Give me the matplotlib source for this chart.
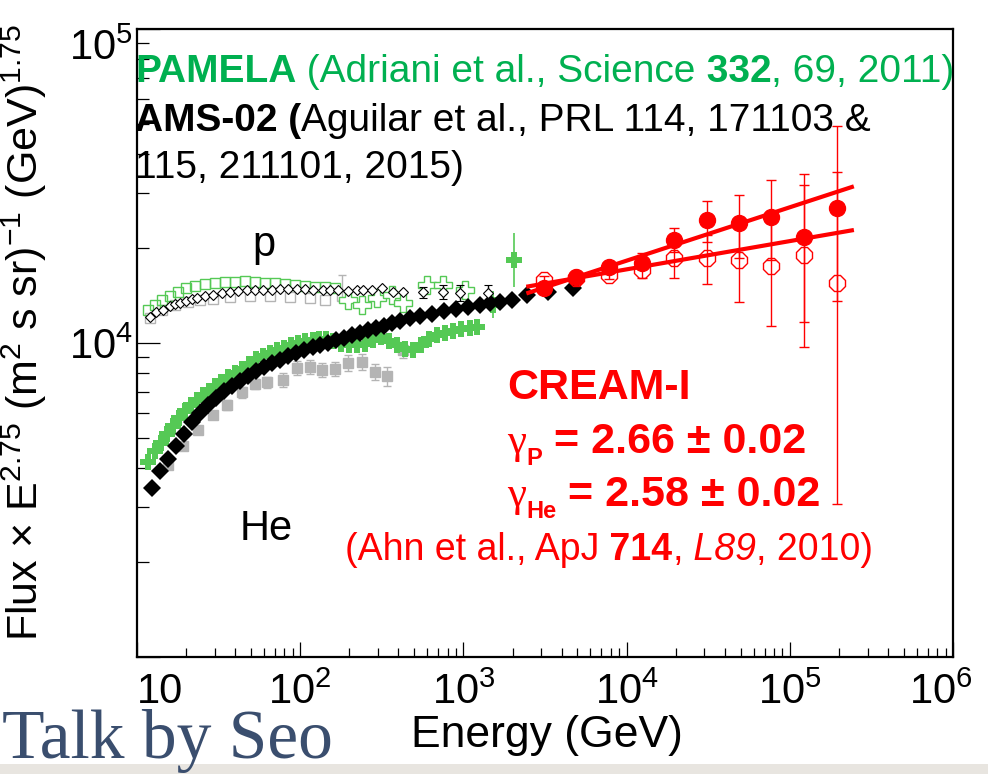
import matplotlib
matplotlib.use("Agg")
import matplotlib.pyplot as plt
import numpy as np
from matplotlib.patches import Rectangle
from matplotlib.ticker import LogLocator, NullFormatter
from matplotlib.transforms import ScaledTranslation

plt.rcParams["font.family"] = ["Liberation Sans", "DejaVu Sans"]
plt.rcParams["mathtext.fontset"] = "custom"
plt.rcParams["mathtext.rm"] = "Liberation Sans"
plt.rcParams["mathtext.it"] = "Liberation Sans:italic"
plt.rcParams["mathtext.bf"] = "Liberation Sans:bold"

W, H = 988, 774

# flux x E^2.75 in (m^2 s sr)^-1 GeV^1.75, energy in GeV

# PAMELA protons: open squares, open crosses for the highest bins
pam_p_e = [11.7, 12.9, 14.2, 15.9, 17.9, 20.0, 22.7, 26.1, 30.1, 34.7, 39.9,
           46.0, 53.0, 61.0, 70.3, 80.9, 93.1, 107, 124, 142, 164]
pam_p_f = [12740, 13210, 13700, 14110, 14540, 14970, 15190, 15410, 15530,
           15640, 15640, 15760, 15640, 15530, 15530, 15410, 15300, 15190,
           15080, 15080, 14970]
pam_p_hi_e = [197, 240, 297, 367, 428, 601, 754, 1030]
pam_p_hi_f = [13700, 13210, 13910, 14220, 13410, 15300, 15300, 14750]

# PAMELA helium
pam_he_e = [11.7, 12.9, 14.0, 15.3, 16.6, 18.1, 19.7, 21.4, 23.3, 25.4, 27.7,
            30.1, 32.8, 36.2, 39.9, 44.1, 48.7, 53.7, 59.3, 65.5, 72.3, 79.8,
            88.1, 97.2, 107, 119, 131, 144, 159, 178, 200, 224, 251, 281, 314,
            352, 394, 441, 494, 553, 619, 693, 776, 868, 972, 1090, 1220]
pam_he_f = [4180, 4530, 4800, 5130, 5440, 5770, 6070, 6350, 6580, 6830, 7030,
            7300, 7510, 7790, 8030, 8260, 8570, 8890, 9090, 9290, 9500, 9640,
            9850, 10000, 10150, 10220, 10300, 10300, 10150, 9930, 9850, 9850,
            9930, 10220, 10450, 10150, 9850, 9570, 9500, 9850, 10300, 10600,
            10760, 10920, 11080, 11160, 11250]
pam_he_tail_e = [1510, 2030]
pam_he_tail_f = [13210, 18380]
pam_he_tail_lo = [12000, 15080]
pam_he_tail_hi = [14640, 22400]

# AMS-02 protons
ams_p_e = [12.0, 13.1, 14.4, 15.9, 17.1, 18.4, 20.0, 21.8, 23.3, 26.1, 29.3,
           33.2, 37.2, 41.7, 47.3, 53.0, 59.3, 67.3, 75.4, 84.4, 95.9, 107,
           120, 138, 153, 171, 197, 224, 244, 277, 319, 372, 428]
ams_p_f = [12100, 12550, 12740, 13120, 13310, 13410, 13600, 13810, 13910,
           14110, 14220, 14430, 14530, 14640, 14750, 14750, 14750, 14750,
           14860, 14860, 14860, 14860, 14750, 14750, 14750, 14750, 14640,
           14750, 14750, 14750, 14970, 14530, 14530]
ams_p_tail_e = [568, 754, 959, 1420]
ams_p_tail_f = [14530, 14530, 14430, 14430]
ams_p_tail_rel = [0.04, 0.05, 0.06, 0.06]

# AMS-02 helium
ams_he_e = [12.4, 13.8, 15.5, 17.4, 19.4, 21.8, 24.4, 27.3, 30.5, 34.2, 38.3,
            42.9, 48.0, 53.7, 60.1, 67.3, 75.4, 84.4, 94.5, 106, 119, 133,
            149, 166, 186, 209, 233, 261, 293, 328, 367, 411, 473, 545, 645,
            765, 906, 1073, 1272, 1464, 1687]
ams_he_f = [3450, 3910, 4270, 4700, 5130, 5600, 5980, 6350, 6680, 7030, 7300,
            7570, 7850, 8140, 8390, 8640, 8830, 9090, 9290, 9500, 9710, 9850,
            10000, 10220, 10370, 10600, 10760, 11000, 11160, 11330, 11580,
            11750, 12010, 12190, 12370, 12640, 12830, 13020, 13210, 13410,
            13510]
ams_he_tail_e = [1998, 2470, 3276, 4664]
ams_he_tail_f = [13700, 14220, 14530, 14970]
ams_he_tail_rel = [0.02, 0.03, 0.04, 0.05]

# other balloon data (grey)
gray_p_e = [12.0, 14.2, 17.1, 20.6, 24.4, 29.3, 37.2, 49.3, 65.5, 86.8, 115, 142]
gray_p_f = [12010, 12740, 13210, 13510, 13700, 13810, 14010, 14110, 14110,
            14010, 13910, 13700]
gray_p_tail_e = [181]
gray_p_tail_f = [14110]
gray_p_tail_lo = [13700]
gray_p_tail_hi = [16470]

gray_he_e = [15.5, 19.2, 23.7, 29.3, 35.7, 44.1, 53.0, 62.7, 78.7, 95.9, 115,
             136, 164, 197, 240, 288, 342, 428]
gray_he_f = [4090, 4700, 5280, 5900, 6350, 6980, 7410, 7510, 7620, 8330, 8390,
             8200, 8260, 8640, 8700, 8090, 7850, 9500]
gray_he_rel = [0.03, 0.03, 0.03, 0.03, 0.04, 0.04, 0.04, 0.04, 0.05, 0.05,
               0.05, 0.05, 0.05, 0.06, 0.06, 0.06, 0.07, 0.06]

# CREAM-I
cream_e = [3100, 4870, 7760, 12500, 19400, 31000, 48600, 76400, 122000, 194000]
cream_p_f = [15870, 16110, 16470, 17080, 18650, 18650, 18380, 17590, 19070, 15530]
cream_p_lo = [15410, 15640, 15990, 16110, 16110, 15410, 13510, 11330, 9710, 3070]
cream_p_hi = [16350, 16590, 16960, 19340, 20510, 22080, 23760, 25560, 31860, 49110]
cream_he_f = [14970, 16230, 17460, 17980, 21280, 24650, 24110, 25190, 21760, 26920]
cream_he_lo = [14530, 15760, 16960, 17330, 19490, 20970, 18650, 18380, 11670, 13600]
cream_he_hi = [15410, 16710, 17980, 18650, 23240, 28330, 29600, 33050, 34530, 35040]

# power-law fits, normalised at 10 TeV
gamma_p, gamma_he = 2.66, 2.58
fit_norm_p, fit_norm_he = 17160, 18290
fit_e = [2500, 240000]

GREEN_TXT = "#00b050"
GREEN = "#55c955"
GRAY = "#b4b4b4"
RED = "#ff0000"


def asym(f, lo, hi):
    f = np.asarray(f, float)
    return [f - np.asarray(lo, float), np.asarray(hi, float) - f]


def rel(f, r):
    f = np.asarray(f, float)
    return f * np.asarray(r, float)


fig = plt.figure(figsize=(W / 100, H / 100), dpi=100)
fig.patch.set_facecolor("white")
ax = fig.add_axes([137 / W, 1 - 657 / H, (953 - 137) / W, (657 - 29) / H])
ax.set_xscale("log")
ax.set_yscale("log")
ax.set_xlim(10, 1e6)
ax.set_ylim(1e3, 1e5)

# grey points go underneath everything
ax.plot(gray_p_e, gray_p_f, ls="none", marker="s", ms=6.5, mfc="none",
        mec=GRAY, mew=1, zorder=1)
ax.errorbar(gray_p_tail_e, gray_p_tail_f,
            yerr=asym(gray_p_tail_f, gray_p_tail_lo, gray_p_tail_hi),
            fmt="s", ms=6.5, mfc="none", mec=GRAY, ecolor=GRAY, elinewidth=1,
            capsize=3, zorder=1)
ax.errorbar(gray_he_e, gray_he_f, yerr=rel(gray_he_f, gray_he_rel), fmt="s",
            ms=7.5, color=GRAY, ecolor=GRAY, elinewidth=1, capsize=3, zorder=1)

# PAMELA
ax.plot(pam_p_e, pam_p_f, ls="none", marker="s", ms=7, mfc="none",
        mec=GREEN, mew=1, zorder=2)
ax.plot(pam_p_hi_e, pam_p_hi_f, ls="none", marker="P", ms=13, mfc="white",
        mec=GREEN, mew=1, zorder=2)
ax.plot(pam_he_e, pam_he_f, ls="none", marker="P", ms=12, color=GREEN,
        mew=0, zorder=2)
ax.errorbar(pam_he_tail_e, pam_he_tail_f,
            yerr=asym(pam_he_tail_f, pam_he_tail_lo, pam_he_tail_hi),
            fmt="P", ms=12, color=GREEN, mew=0, ecolor=GREEN, elinewidth=1.2,
            capsize=3.5, zorder=2)

# AMS-02
ax.plot(ams_p_e, ams_p_f, ls="none", marker="D", ms=5.5, mfc="white",
        mec="black", mew=0.8, zorder=3)
ax.errorbar(ams_p_tail_e, ams_p_tail_f, yerr=rel(ams_p_tail_f, ams_p_tail_rel),
            fmt="D", ms=5.5, mfc="white", mec="black", mew=0.8, ecolor="black",
            elinewidth=1, capsize=3, zorder=3)
ax.plot(ams_he_e, ams_he_f, ls="none", marker="D", ms=9, color="black",
        mew=0, zorder=3)
ax.errorbar(ams_he_tail_e, ams_he_tail_f,
            yerr=rel(ams_he_tail_f, ams_he_tail_rel), fmt="D", ms=9,
            color="black", mew=0, ecolor="black", elinewidth=1.2, capsize=3.5,
            zorder=3)

# CREAM-I with its power-law fits
fe = np.asarray(fit_e, float)
ax.plot(fe, fit_norm_p * (fe / 1e4) ** (2.75 - gamma_p), color=RED, lw=3,
        zorder=4)
ax.plot(fe, fit_norm_he * (fe / 1e4) ** (2.75 - gamma_he), color=RED, lw=3,
        zorder=4)
ax.errorbar(cream_e, cream_p_f, yerr=asym(cream_p_f, cream_p_lo, cream_p_hi),
            fmt="8", ms=12, mfc="none", mec=RED, mew=1, ecolor=RED,
            elinewidth=1, capsize=3.5, zorder=5)
ax.errorbar(cream_e, cream_he_f,
            yerr=asym(cream_he_f, cream_he_lo, cream_he_hi), fmt="o",
            ms=11.5, color=RED, ecolor=RED, elinewidth=1, capsize=3.5,
            zorder=5)

# axes styling
for s in ax.spines.values():
    s.set_linewidth(1.6)
ax.xaxis.set_minor_locator(LogLocator(base=10, subs=np.arange(2, 10)))
ax.yaxis.set_minor_locator(LogLocator(base=10, subs=np.arange(2, 10)))
ax.xaxis.set_minor_formatter(NullFormatter())
ax.yaxis.set_minor_formatter(NullFormatter())
ax.tick_params(which="both", direction="in", top=False, right=False,
               labelsize=30, width=0.9)
ax.tick_params(axis="x", which="major", length=11, pad=11)
ax.tick_params(axis="x", which="minor", length=6.5)
ax.tick_params(axis="y", which="major", length=16.5, pad=3)
ax.tick_params(axis="y", which="minor", length=8.5)
ax.set_xticks([10, 1e2, 1e3, 1e4, 1e5, 1e6],
              labels=["10", "$10^{2}$", "$10^{3}$", "$10^{4}$", "$10^{5}$",
                      "$10^{6}$"])
ax.set_yticks([1e3, 1e4, 1e5], labels=["", "$10^{4}$", "$10^{5}$"])
xl = ax.get_xticklabels()
xl[0].set_horizontalalignment("left")
xl[-1].set_transform(xl[-1].get_transform()
                     + ScaledTranslation(-0.12, 0, fig.dpi_scale_trans))
ax.get_yticklabels()[2].set_verticalalignment("top")

fig.text(24 / W, 1 - 332 / H,
         r"Flux $\times$ E$^{2.75}$ (m$^{2}$ s sr)$^{-1}$ (GeV)$^{1.75}$",
         rotation=90, ha="center", va="center", fontsize=31)
fig.text(547 / W, 1 - 747 / H, "Energy (GeV)", ha="center", va="baseline",
         fontsize=32)


def put_runs(x, y, runs, size, color):
    rend = fig.canvas.get_renderer()
    for text, opts in runs:
        opts = dict(opts)
        fs = opts.pop("size", size)
        dy = opts.pop("dy", 0)
        t = fig.text(x / W, 1 - (y + dy) / H, text, fontsize=fs, color=color,
                     ha="left", va="baseline", **opts)
        x += t.get_window_extent(rend).width


put_runs(135, 82, [("PAMELA", {"weight": "bold"}),
                   (" (Adriani et al., Science", {}),
                   (" 332", {"weight": "bold"}),
                   (", 69, 2011)", {})], 28, GREEN_TXT)
put_runs(135, 131, [("AMS-02 (", {"weight": "bold"}),
                    ("Aguilar et al., PRL 114, 171103 &", {})], 28, "black")
put_runs(135, 178, [("115, 211101, 2015)", {})], 28, "black")

fig.text(252 / W, 1 - 256 / H, "p", fontsize=30, va="baseline")
fig.text(240 / W, 1 - 540 / H, "He", fontsize=30, va="baseline")

put_runs(507, 399, [("CREAM-I", {"weight": "bold"})], 31, RED)
put_runs(507, 453, [("\u03b3", {"family": "Liberation Serif"}),
                    ("P", {"weight": "bold", "size": 17, "dy": 12}),
                    (f" = {gamma_p:.2f} \u00b1 0.02", {"weight": "bold"})],
         31, RED)
put_runs(507, 506, [("\u03b3", {"family": "Liberation Serif"}),
                    ("He", {"weight": "bold", "size": 17, "dy": 12}),
                    (f" = {gamma_he:.2f} \u00b1 0.02", {"weight": "bold"})],
         31, RED)
put_runs(345, 560, [("(Ahn et al., ApJ", {}),
                    (" 714", {"weight": "bold"}),
                    (",", {}),
                    (" L89", {"style": "italic"}),
                    (", 2010)", {})], 27, RED)

fig.add_artist(Rectangle((0, 0), 1, 10 / H, transform=fig.transFigure,
                         facecolor="#e8e5e0", edgecolor="none", zorder=0))
fig.text(2 / W, 1 - 758 / H, "Talk by Seo", family="Liberation Serif",
         fontsize=50, color="#3a4e6e", va="baseline")

fig.savefig("out.png", dpi=100)
